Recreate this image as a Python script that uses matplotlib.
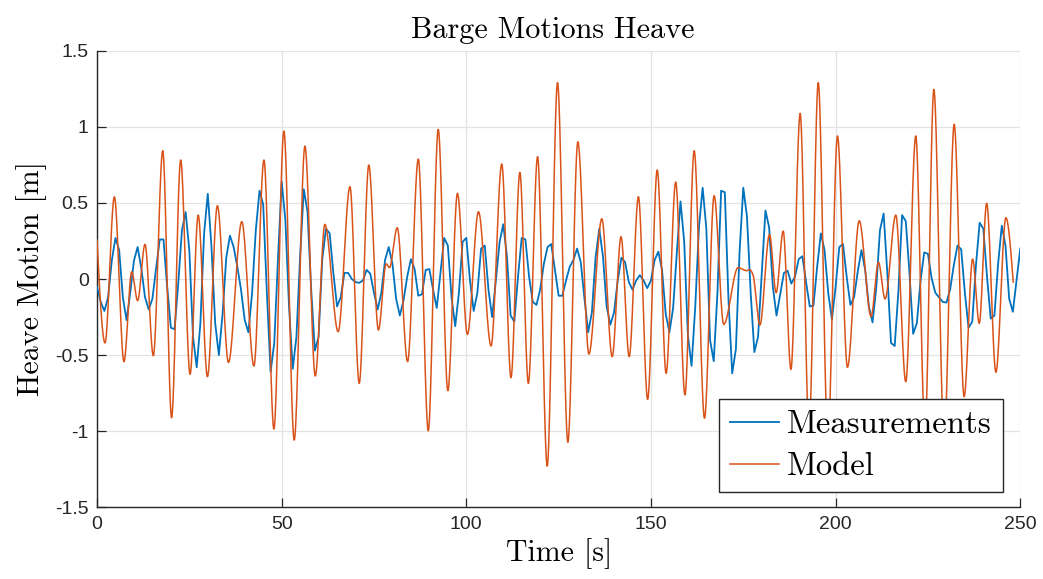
import numpy as np
import matplotlib
matplotlib.use("Agg")
import matplotlib.pyplot as plt

plt.rcParams["font.family"] = ["Liberation Sans", "DejaVu Sans"]

# Measured heave, sampled once per second
meas_t = np.arange(0, 251)
meas_v = [
    -0.05, -0.15, -0.21, -0.12, 0.12, 0.27, 0.19, -0.12, -0.27, -0.09,
    0.12, 0.21, 0.07, -0.12, -0.20, -0.13, 0.07, 0.26, 0.26, -0.05,
    -0.32, -0.33, -0.03, 0.32, 0.44, 0.19, -0.38, -0.58, -0.29, 0.30,
    0.56, 0.21, -0.29, -0.50, -0.23, 0.14, 0.285, 0.21, 0.08, -0.07,
    -0.27, -0.35, -0.09, 0.32, 0.58, 0.49, -0.09, -0.61, -0.42, 0.13,
    0.64, 0.39, -0.18, -0.59, -0.38, 0.15, 0.59, 0.44, -0.07, -0.47,
    -0.38, 0.13, 0.33, 0.30, 0.04, -0.18, -0.12, 0.04, 0.04, 0.00,
    -0.02, -0.025, -0.01, 0.06, 0.035, -0.09, -0.20, -0.09, 0.125, 0.21,
    0.10, -0.13, -0.24, -0.14, 0.015, 0.13, 0.065, -0.11, -0.10, 0.06,
    0.065, -0.07, -0.19, 0.04, 0.27, 0.22, -0.12, -0.31, -0.09, 0.245,
    0.27, -0.01, -0.21, -0.09, 0.20, 0.22, -0.07, -0.25, -0.01, 0.24,
    0.36, 0.15, -0.24, -0.28, 0.015, 0.27, 0.26, 0.015, -0.15, -0.17,
    -0.07, 0.10, 0.21, 0.23, 0.06, -0.11, -0.11, -0.01, 0.08, 0.125,
    0.20, 0.11, -0.13, -0.35, -0.22, 0.14, 0.33, 0.15, -0.18, -0.30,
    -0.22, -0.01, 0.14, 0.11, -0.02, -0.07, -0.01, 0.025, -0.01, -0.06,
    -0.01, 0.125, 0.18, 0.06, -0.23, -0.35, -0.19, 0.17, 0.51, 0.245,
    -0.37, -0.57, -0.18, 0.34, 0.60, 0.33, -0.40, -0.54, -0.09, 0.58,
    0.57, -0.14, -0.62, -0.46, 0.18, 0.60, 0.41, -0.09, -0.48, -0.38,
    0.04, 0.45, 0.34, -0.05, -0.24, -0.10, 0.04, 0.055, -0.03, 0.015,
    0.13, 0.15, -0.02, -0.18, -0.175, 0.08, 0.30, 0.19, -0.09, -0.265,
    -0.05, 0.21, 0.23, 0.015, -0.17, -0.12, 0.05, 0.19, 0.06, -0.18,
    -0.285, -0.06, 0.32, 0.43, 0.04, -0.42, -0.44, -0.08, 0.42, 0.38,
    0.04, -0.36, -0.29, -0.01, 0.175, 0.165, 0.005, -0.09, -0.12, -0.15,
    -0.155, -0.07, 0.09, 0.22, 0.195, -0.09, -0.32, -0.28, 0.09, 0.37,
    0.33, 0.015, -0.26, -0.24, 0.10, 0.35, 0.22, -0.13, -0.215, -0.01,
    0.20,
]

# Model response: turning points of the simulated heave
model_t = [
    0.0, 2.17, 4.7, 7.3, 9.4, 11.0, 13.0, 15.25, 17.8, 20.2,
    22.65, 25.2, 27.4, 29.9, 32.6, 35.6, 39.2, 42.5, 45.2, 47.9,
    50.6, 53.4, 56.3, 59.1, 61.7, 65.3, 68.5, 71.0, 73.6, 76.2,
    78.3, 79.2, 81.3, 84.1, 87.0, 89.7, 92.4, 95.0, 97.6, 100.3,
    103.3, 106.7, 109.6, 112.1, 114.5, 116.8, 119.3, 121.9, 124.7, 127.5,
    130.2, 133.2, 136.7, 139.5, 141.9, 144.1, 146.6, 149.1, 151.7, 154.1,
    156.7, 159.2, 161.7, 164.5, 167.1, 169.7, 173.6, 175.9, 176.7, 177.6,
    179.5, 182.1, 183.9, 185.8, 187.9, 190.4, 192.8, 195.3, 197.9, 200.5,
    203.2, 206.4, 209.6, 211.6, 213.4, 216.3, 219.0, 221.7, 224.2, 226.6,
    229.4, 232.1, 234.8, 237.1, 238.9, 240.9, 243.4, 246.1, 248.1,
]
model_v = [
    0.256, -0.42, 0.54, -0.543, 0.048, -0.142, 0.228, -0.504, 0.843, -0.911,
    0.782, -0.626, 0.42, -0.642, 0.482, -0.548, 0.377, -0.572, 0.782, -0.986,
    0.972, -1.058, 0.874, -0.637, 0.359, -0.346, 0.607, -0.686, 0.749, -0.335,
    0.10, 0.075, 0.337, -0.543, 0.788, -0.997, 0.983, -0.734, 0.563, -0.364,
    0.442, -0.44, 0.756, -0.648, 0.701, -0.686, 0.804, -1.229, 1.29, -1.073,
    0.902, -0.493, 0.396, -0.51, 0.278, -0.51, 0.541, -0.791, 0.716, -0.62,
    0.637, -0.762, 0.843, -0.915, 0.548, -0.298, 0.075, 0.055, 0.062, 0.03,
    -0.302, 0.293, -0.09, 0.315, -0.594, 1.088, -1.0, 1.29, -1.05, 0.94,
    -0.58, 0.383, -0.247, 0.11, -0.131, 0.42, -0.675, 0.94, -1.0, 1.246,
    -1.05, 1.016, -0.773, 0.131, -0.291, 0.497, -0.613, 0.403, -0.02,
]

x_ticks = [0, 50, 100, 150, 200, 250]
x_tick_labels = ["0", "50", "100", "150", "200", "250"]
y_ticks = [-1.5, -1.0, -0.5, 0.0, 0.5, 1.0, 1.5]
y_tick_labels = ["-1.5", "-1", "-0.5", "0", "0.5", "1", "1.5"]


def pchip_curve(xk, yk, per_seg=40):
    """Shape-preserving cubic Hermite curve through the given knots."""
    xk = np.asarray(xk, float)
    yk = np.asarray(yk, float)
    h = np.diff(xk)
    d = np.diff(yk) / h
    m = np.zeros_like(yk)
    for i in range(1, len(xk) - 1):
        if d[i - 1] * d[i] > 0:
            w1 = 2 * h[i] + h[i - 1]
            w2 = h[i] + 2 * h[i - 1]
            m[i] = (w1 + w2) / (w1 / d[i - 1] + w2 / d[i])
    m[0] = 1.5 * d[0]
    m[-1] = 1.5 * d[-1]
    xs, ys = [], []
    for i in range(len(xk) - 1):
        s = np.linspace(0, 1, per_seg, endpoint=False)
        h00 = 2 * s**3 - 3 * s**2 + 1
        h10 = s**3 - 2 * s**2 + s
        h01 = -2 * s**3 + 3 * s**2
        h11 = s**3 - s**2
        xs.append(xk[i] + s * h[i])
        ys.append(h00 * yk[i] + h10 * h[i] * m[i] + h01 * yk[i + 1] + h11 * h[i] * m[i + 1])
    xs.append([xk[-1]])
    ys.append([yk[-1]])
    return np.concatenate(xs), np.concatenate(ys)


model_x, model_y = pchip_curve(model_t, model_v)

fig = plt.figure(figsize=(10.43, 5.79), dpi=100)
ax = fig.add_axes([0.0930, 0.1238, 0.8852, 0.7886])

ax.plot(meas_t, meas_v, color="#0072BD", lw=1.3, label="Measurements", zorder=3)
ax.plot(model_x, model_y, color="#D95319", lw=1.1, label="Model", zorder=4)

ax.set_xlim(0, 250)
ax.set_ylim(-1.5, 1.5)
ax.set_xticks(x_ticks)
ax.set_xticklabels(x_tick_labels)
ax.set_yticks(y_ticks)
ax.set_yticklabels(y_tick_labels)
ax.grid(True, color="#e3e3e3", lw=0.9)
ax.set_axisbelow(True)
for side in ("top", "right"):
    ax.spines[side].set_visible(False)
for side in ("left", "bottom"):
    ax.spines[side].set_color("#262626")
    ax.spines[side].set_linewidth(1.0)
ax.tick_params(direction="in", length=6.5, width=0.9, color="#262626",
               labelsize=14, labelcolor="#262626", pad=6)

cm = "cmr10"
ax.set_title("Barge Motions Heave", fontfamily=cm, fontsize=21.7, pad=9, x=0.494)
ax.set_xlabel("Time [s]", fontfamily=cm, fontsize=21.5, labelpad=4)
ax.set_ylabel("Heave Motion [m]", fontfamily=cm, fontsize=21.5, labelpad=6)

leg = ax.legend(loc="lower right", bbox_to_anchor=(0.981, 0.0335),
                borderaxespad=0, prop={"family": cm, "size": 23.5},
                fancybox=False, framealpha=1, edgecolor="#262626",
                handlelength=1.5, handletextpad=0.25, labelspacing=0.4,
                borderpad=0.33)
leg.get_frame().set_linewidth(1.0)

fig.savefig("out.png", dpi=100)
